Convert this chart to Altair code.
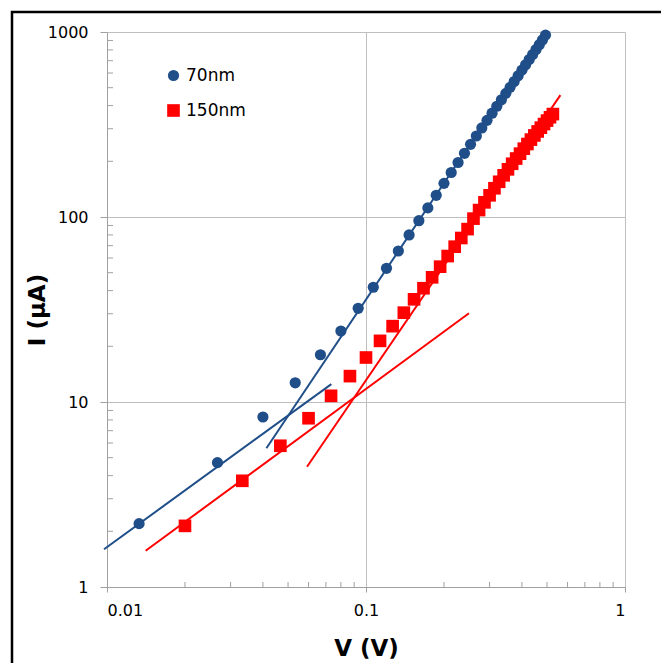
import altair as alt
import pandas as pd

# ---- data ----
V70 = [0.0133, 0.0267, 0.0400, 0.0533, 0.0667, 0.0800, 0.0933, 0.1067, 0.1200, 0.1333,
       0.1467, 0.1600, 0.1733, 0.1867, 0.2000, 0.2133, 0.2267, 0.2400, 0.2533, 0.2667,
       0.2800, 0.2933, 0.3067, 0.3200, 0.3333, 0.3467, 0.3600, 0.3733, 0.3867, 0.4000,
       0.4133, 0.4267, 0.4400, 0.4533, 0.4667, 0.4800, 0.4933]
I70 = [2.2, 4.7, 8.3, 12.7, 18.0, 24.2, 32.1, 41.7, 52.8, 65.5,
       80, 95.5, 112, 131, 152, 174, 197, 221, 247, 274,
       303, 333, 364, 397, 430, 466, 502, 540, 580, 622,
       665, 710, 756, 804, 854, 906, 962]

V150 = [0.0200, 0.0333, 0.0467, 0.0600, 0.0733, 0.0867, 0.1000, 0.1133, 0.1267, 0.1400,
        0.1533, 0.1667, 0.1800, 0.1933, 0.2067, 0.2200, 0.2333, 0.2467, 0.2600, 0.2733,
        0.2867, 0.3000, 0.3133, 0.3267, 0.3400, 0.3533, 0.3667, 0.3800, 0.3933, 0.4067,
        0.4200, 0.4333, 0.4467, 0.4600, 0.4733, 0.4867, 0.5000, 0.5133, 0.5267]
I150 = [2.14, 3.75, 5.8, 8.17, 10.8, 13.8, 17.4, 21.4, 25.7, 30.4,
        35.9, 41.2, 47.2, 53.9, 61.5, 69.1, 77, 86, 98, 109,
        120, 131, 143, 155, 168, 181, 194, 207, 220, 234,
        248, 262, 276, 290, 304, 318, 332, 346, 360]

SERIES = ["70nm", "150nm"]
SERIES_COLORS = ["#1F4E89", "#FF0000"]

# fitted straight lines (endpoints)
FIT_ID = ["b1", "b1", "b2", "b2", "r1", "r1", "r2", "r2"]
FIT_V = [0.00974, 0.0735, 0.04125, 0.45, 0.0141, 0.2498, 0.0592, 0.563]
FIT_I = [1.6, 12.5, 5.62, 830, 1.57, 30.2, 4.47, 456]
FIT_COLOR = ["#1F4E89", "#1F4E89", "#1F4E89", "#1F4E89",
             "#FF0000", "#FF0000", "#FF0000", "#FF0000"]

X_MAJOR = [0.01, 0.1, 1]
Y_MAJOR = [1, 10, 100, 1000]
X_MINOR = [0.02, 0.03, 0.04, 0.05, 0.06, 0.07, 0.08, 0.09,
           0.2, 0.3, 0.4, 0.5, 0.6, 0.7, 0.8, 0.9]
Y_MINOR = [2, 3, 4, 5, 6, 7, 8, 9, 20, 30, 40, 50, 60, 70, 80, 90,
           200, 300, 400, 500, 600, 700, 800, 900]

W, H = 518, 555
FONT = "DejaVu Sans"

pts = pd.DataFrame({
    "V": V70 + V150,
    "I": I70 + I150,
    "series": ["70nm"] * len(V70) + ["150nm"] * len(V150),
})
fits = pd.DataFrame({"id": FIT_ID, "V": FIT_V, "I": FIT_I, "col": FIT_COLOR})
yminor_df = pd.DataFrame({"I": Y_MINOR})
xminor_df = pd.DataFrame({"V": X_MINOR})

xs = alt.Scale(type="log", domain=[0.01, 1], nice=False)
ys = alt.Scale(type="log", domain=[1, 1000], nice=False)

x_axis = alt.Axis(values=X_MAJOR, format="~g", title="V (V)", grid=True,
                  tickSize=5, labelPadding=10, titleY=61, titleX=W / 2,
                  titleBaseline="middle")
y_axis = alt.Axis(values=Y_MAJOR, format="~g", title="I (\u03bcA)", grid=True,
                  tickSize=7, labelPadding=12, titleX=-70, titleY=H / 2,
                  titleBaseline="middle", titleAlign="center")

X = alt.X("V:Q", scale=xs, axis=x_axis, title="V (V)")
Y = alt.Y("I:Q", scale=ys, axis=y_axis, title="I (\u03bcA)")

frame = alt.Chart(pd.DataFrame({"k": [0]})).mark_rect(
    fill="transparent", stroke="black", strokeWidth=2.5
).encode(
    x=alt.value(-95), x2=alt.value(W + 300),
    y=alt.value(-20), y2=alt.value(H + 300),
)

yminor = alt.Chart(yminor_df).mark_rule(color="#A0A0A0", strokeWidth=1).encode(
    y=Y, x=alt.value(0), x2=alt.value(6),
)
xminor = alt.Chart(xminor_df).mark_rule(color="#A0A0A0", strokeWidth=1).encode(
    x=X, y=alt.value(H), y2=alt.value(H - 5),
)

points = alt.Chart(pts).mark_point(filled=True, opacity=1, strokeWidth=0).encode(
    x=X, y=Y,
    color=alt.Color("series:N", scale=alt.Scale(domain=SERIES, range=SERIES_COLORS),
                    legend=alt.Legend(title=None)),
    shape=alt.Shape("series:N", scale=alt.Scale(domain=SERIES, range=["circle", "square"]),
                    legend=alt.Legend(title=None)),
    size=alt.Size("series:N", scale=alt.Scale(domain=SERIES, range=[125, 160]),
                  legend=alt.Legend(title=None)),
)

lines = alt.Chart(fits).mark_line(strokeWidth=2).encode(
    x=X, y=Y,
    detail="id:N",
    color=alt.Color("col:N", scale=None),
)

chart = alt.layer(frame, yminor, xminor, points, lines).properties(
    width=W, height=H,
    autosize=alt.AutoSizeParams(type="none"),
    padding={"left": 107, "top": 32, "right": 36, "bottom": 76},
).configure_view(strokeWidth=0).configure_axis(
    domainColor="#A0A0A0", tickColor="#A0A0A0", gridColor="#BFBFBF",
    labelFont=FONT, labelFontSize=16, labelColor="black",
    titleFont=FONT, titleFontSize=23, titleFontWeight="bold", titleColor="black",
).configure_legend(
    orient="none", legendX=58, legendY=35, padding=0,
    labelFont=FONT, labelFontSize=17, labelColor="black",
    rowPadding=17, labelOffset=4, symbolStrokeWidth=0,
)

chart.save("out.html", embed_options={"renderer": "svg", "actions": False})
